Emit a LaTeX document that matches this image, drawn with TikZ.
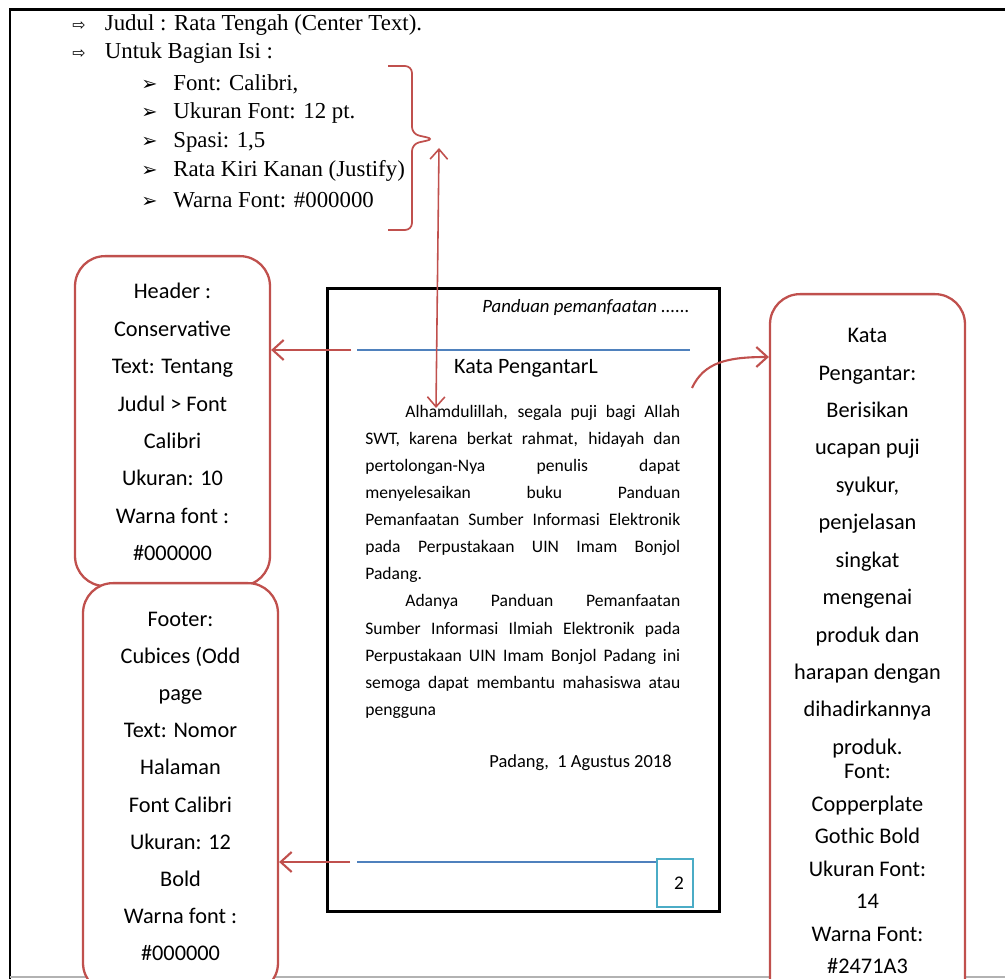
\documentclass[tikz,border=0pt]{standalone}
\usepackage{fontspec}
\setmainfont{Liberation Serif}
\newfontfamily\calibri{Carlito}
\newfontfamily\symfont{DejaVu Sans}
\usetikzlibrary{arrows.meta, positioning, calc}
\definecolor{boxred}{HTML}{C0504D}
\definecolor{ruleblue}{HTML}{4F81BD}
\definecolor{pgteal}{HTML}{4BACC6}

\begin{document}
\begin{tikzpicture}[
    x=0.02cm, y=-0.02cm,
    callout/.style={draw=boxred, line width=1.3pt, rounded corners=0.6cm, fill=white, minimum width=3.9cm, anchor=north, inner sep=0pt},
    boxtext/.style={align=center, inner sep=0pt, font=\calibri\fontsize{12.7}{21.3}\selectfont},
    doctext/.style={inner sep=0pt, font=\calibri\fontsize{10}{15.4}\selectfont},
    listtext/.style={anchor=west, inner sep=0pt, font=\fontsize{13}{15}\selectfont},
    arrow/.style={-{Straight Barb[length=2.2mm, width=4mm]}, line width=1.2pt, draw=boxred},
    rule/.style={draw=ruleblue, line width=0.8pt}
]
    \useasboundingbox (0,0) rectangle (1005,979);
    \clip (0,0) rectangle (1005,979);

    % frame of the screenshot
    \draw[line width=1.7pt] (1005,10) -- (10,10) -- (10,979);
    \draw[gray!60, line width=1pt] (10,977) -- (1005,977);

    % top list
    \node[listtext] (judul) at (72,25) {{\symfont\small ⇨}\hspace{11pt}Judul : Rata Tengah (Center Text).};
    \node[listtext] (isi) at (72,53) {{\symfont\small ⇨}\hspace{11pt}Untuk Bagian Isi :};
    \foreach \lbl [count=\i] in {{Font: Calibri,}, {Ukuran Font: 12 pt.}, {Spasi: 1,5}, {Rata Kiri Kanan (Justify)}, {Warna Font: \#000000}}
        \node[listtext] (isi\i) at (141, {84+29*(\i-1)}) {{\symfont\fontsize{11}{13}\selectfont ➢}\hspace{9pt}\lbl};
    \draw[boxred, line width=1pt, rounded corners=4pt] (388,66) -- (412,66) -- (412,134) -- (434,139) -- (412,144) -- (412,230) -- (388,230);

    % page
    \node[draw, line width=1.6pt, minimum width=7.84cm, minimum height=12.46cm, anchor=north west, inner sep=0pt] (page) at (326,287) {};
    \node[doctext, anchor=east, font=\calibri\itshape\fontsize{10.7}{12}\selectfont] (running) at (690,307) {Panduan pemanfaatan ......};
    \coordinate (hl) at (357,350);
    \coordinate (hr) at (690,350);
    \draw[rule] (hl) -- (hr);
    \node[doctext, font=\calibri\fontsize{12.5}{14}\selectfont] (kptitle) at (526,368) {Kata PengantarL};
    \node[doctext, anchor=north west, text width=6.3cm, align=justify] (body) at (365,405) {%
        \hyphenpenalty=10000\hbadness=10000
        \hspace*{0.8cm}Alhamdulillah, segala puji bagi Allah\linebreak
        SWT, karena berkat rahmat, hidayah dan\linebreak
        pertolongan-Nya penulis dapat\linebreak
        menyelesaikan buku Panduan\linebreak
        Pemanfaatan Sumber Informasi Elektronik\linebreak
        pada Perpustakaan UIN Imam Bonjol\linebreak
        Padang.\par
        \hspace*{0.8cm}Adanya Panduan Pemanfaatan\linebreak
        Sumber Informasi Ilmiah Elektronik pada\linebreak
        Perpustakaan UIN Imam Bonjol Padang ini\linebreak
        semoga dapat membantu mahasiswa atau\linebreak
        pengguna};
    \node[doctext, anchor=east, font=\calibri\fontsize{10.5}{12}\selectfont] (date) at (672,763) {Padang,\ \ 1 Agustus 2018};
    \node[draw=pgteal, line width=1.3pt, minimum width=0.72cm, minimum height=0.96cm, anchor=north west, inner sep=0pt, font=\calibri\fontsize{11}{13}\selectfont] (pgnum) at (656,858) {\hspace{0.16cm}2};
    \coordinate (fl) at (357,862);
    \draw[rule] (fl) -- (pgnum.west |- fl);

    % callouts
    \node[callout, minimum height=6.6cm] (hdr) at (172.5,255) {};
    \node[boxtext, below=0.56cm of hdr.north] (hdrtxt) {Header :\\Conservative\\Text: Tentang\\Judul > Font\\Calibri\\Ukuran: 10\\Warna font :\\\#000000};
    \node[callout, minimum height=8.2cm] (ftr) at (180.5,582) {};
    \node[boxtext, below=0.6cm of ftr.north, font=\calibri\fontsize{12.7}{21.1}\selectfont] (ftrtxt) {Footer:\\Cubices (Odd\\page\\Text: Nomor\\Halaman\\Font Calibri\\Ukuran: 12\\Bold\\Warna font :\\\#000000};
    \node[callout, minimum height=14.8cm] (kpbox) at (867.5,293) {};
    \node[boxtext, below=0.7cm of kpbox.north] (kptxt) {Kata\\Pengantar:\\Berisikan\\ucapan puji\\syukur,\\penjelasan\\singkat\\mengenai\\produk dan\\harapan dengan\\dihadirkannya\\produk.};
    \node[boxtext, below=0.12cm of kptxt.south, font=\calibri\fontsize{12.7}{18.5}\selectfont] (kpfont) {Font:\\Copperplate\\Gothic Bold\\Ukuran Font:\\14\\Warna Font:\\\#2471A3};

    % connectors
    \draw[arrow] ([xshift=-0.12cm]hl) -- (hdr.east |- hl);
    \draw[arrow] ([xshift=-0.14cm]fl) -- (ftr.east |- fl);
    \coordinate (kpstart) at (692,388);
    \draw[arrow] (kpstart) .. controls (704,362) and (728,357) .. ($(kpbox.north west)+(0,64)$);
    \coordinate (bodytip) at (436,408);
    \coordinate (bracetip) at (439,148);
    \draw[{Straight Barb[length=2mm, width=3.5mm]}-{Straight Barb[length=2mm, width=3.5mm]}, boxred, line width=0.9pt] (bodytip) -- (bracetip);
\end{tikzpicture}
\end{document}
